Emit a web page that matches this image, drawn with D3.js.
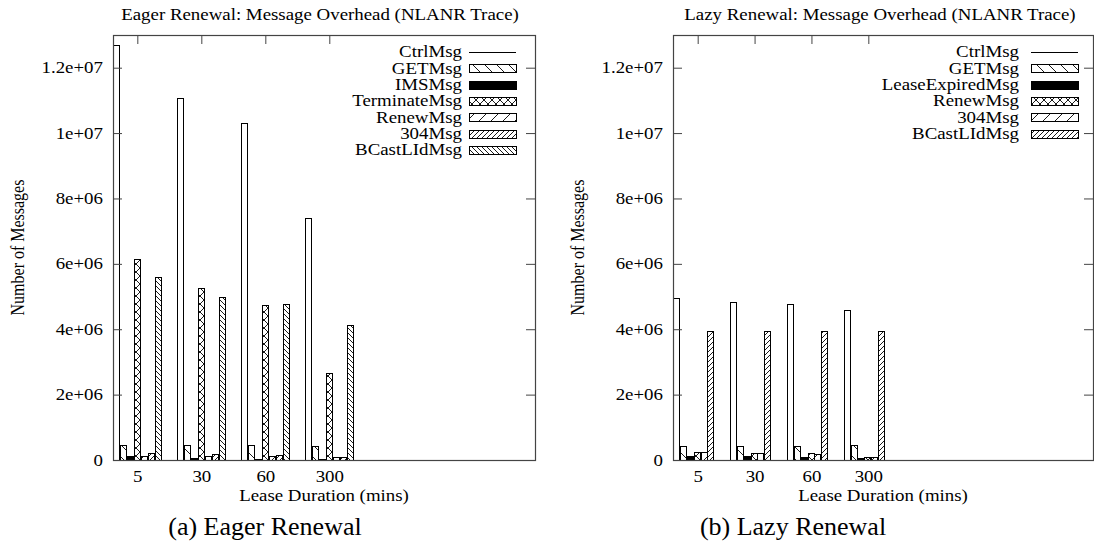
<!DOCTYPE html>
<html>
<head>
<meta charset="utf-8">
<script src="https://cdn.jsdelivr.net/npm/d3@7"></script>
<style>
  body { margin: 0; background: #fff; }
  svg { display: block; }
  text { font-family: "Liberation Serif", "Times New Roman", serif; fill: #000; }
</style>
</head>
<body>
<svg id="fig" width="1094" height="551"></svg>
<script>
// ---- data -------------------------------------------------------------
const leaseDurations = ["5", "30", "60", "300"];
const yTickValues = [0, 2e6, 4e6, 6e6, 8e6, 1e7, 1.2e7];
const yTickLabels = ["0", "2e+06", "4e+06", "6e+06", "8e+06", "1e+07", "1.2e+07"];

// Eager renewal
const eagerNames = ["CtrlMsg", "GETMsg", "IMSMsg", "TerminateMsg", "RenewMsg", "304Msg", "BCastLIdMsg"];
const eagerCtrlMsg      = [12.70e6, 11.08e6, 10.30e6, 7.41e6];
const eagerGETMsg       = [0.46e6, 0.46e6, 0.46e6, 0.44e6];
const eagerIMSMsg       = [0.12e6, 0.06e6, 0.04e6, 0.02e6];
const eagerTerminateMsg = [6.14e6, 5.25e6, 4.75e6, 2.65e6];
const eagerRenewMsg     = [0.12e6, 0.12e6, 0.12e6, 0.10e6];
const eager304Msg       = [0.22e6, 0.18e6, 0.15e6, 0.10e6];
const eagerBCastLIdMsg  = [5.61e6, 4.99e6, 4.76e6, 4.12e6];

// Lazy renewal
const lazyNames = ["CtrlMsg", "GETMsg", "LeaseExpiredMsg", "RenewMsg", "304Msg", "BCastLIdMsg"];
const lazyCtrlMsg         = [4.96e6, 4.83e6, 4.78e6, 4.59e6];
const lazyGETMsg          = [0.43e6, 0.43e6, 0.43e6, 0.46e6];
const lazyLeaseExpiredMsg = [0.13e6, 0.13e6, 0.10e6, 0.05e6];
const lazyRenewMsg        = [0.25e6, 0.20e6, 0.20e6, 0.10e6];
const lazy304Msg          = [0.25e6, 0.20e6, 0.18e6, 0.10e6];
const lazyBCastLIdMsg     = [3.94e6, 3.94e6, 3.94e6, 3.94e6];

// ---- fill styles ------------------------------------------------------
const eagerFills = ["empty", "backSparse", "solid", "cross", "fwdSparse", "fwdDense", "backDense"];
const lazyFills  = ["empty", "backSparse", "solid", "cross", "fwdSparse", "fwdDense"];

const FONT = 16;       // plot text size
const WIDEN = 1.18;    // plot text is set slightly wide
const svg = d3.select("#fig");
const defs = svg.append("defs");

function hatch(id, size, dirs) {
  const p = defs.append("pattern")
    .attr("id", id)
    .attr("patternUnits", "userSpaceOnUse")
    .attr("width", size).attr("height", size);
  p.append("rect").attr("width", size).attr("height", size).attr("fill", "#fff");
  const s = size;
  let d = "";
  if (dirs.includes("/")) d += `M0,${s} L${s},0 M${-s / 2},${s / 2} L${s / 2},${-s / 2} M${s / 2},${s * 1.5} L${s * 1.5},${s / 2} `;
  if (dirs.includes("\\")) d += `M0,0 L${s},${s} M${-s / 2},${s / 2} L${s / 2},${s * 1.5} M${s / 2},${-s / 2} L${s * 1.5},${s / 2} `;
  p.append("path").attr("d", d).attr("stroke", "#000").attr("stroke-width", 0.9).attr("fill", "none");
}
hatch("backSparse", 12, "\\");
hatch("fwdSparse", 12, "/");
hatch("cross", 8, "/\\");
hatch("fwdDense", 5, "/");
hatch("backDense", 5, "\\");

function fillOf(name) {
  if (name === "empty") return "#fff";
  if (name === "solid") return "#000";
  return `url(#${name})`;
}

// wide text placed at (x, y)
function wideText(parent, x, y, str, anchor) {
  return parent.append("text")
    .attr("transform", `translate(${x},${y}) scale(${WIDEN},1)`)
    .attr("text-anchor", anchor).attr("font-size", FONT)
    .text(str);
}

// ---- one panel --------------------------------------------------------
function drawPanel(cfg) {
  const g = svg.append("g");
  const x = d3.scaleLinear().domain(cfg.xDomain).range([cfg.left, cfg.right]);
  const y = d3.scaleLinear().domain([0, 1.3e7]).range([cfg.bottom, cfg.top]);
  const n = cfg.series.length;
  const bw = x(cfg.barWidth) - x(0);

  // bars
  cfg.series.forEach((vals, j) => {
    g.append("g").selectAll("rect")
      .data(vals)
      .join("rect")
      .attr("x", (d, i) => Math.round(x(i + cfg.shift) - n * bw / 2 + j * bw) + 0.5)
      .attr("width", Math.round(bw) - 1)
      .attr("y", d => Math.round(y(d)) + 0.5)
      .attr("height", d => Math.max(0, Math.round(y(0)) - Math.round(y(d))))
      .attr("fill", fillOf(cfg.fills[j]))
      .attr("stroke", "#000")
      .attr("stroke-width", 1);
  });

  // axes (ticks drawn inward, mirrored on the opposite side)
  const frameColor = "#444";
  const yAxisL = g.append("g").attr("transform", `translate(${cfg.left},0)`)
    .call(d3.axisLeft(y).tickValues(yTickValues)
      .tickFormat((d, i) => yTickLabels[i])
      .tickSizeInner(-9).tickSizeOuter(0).tickPadding(8.5));
  const yAxisR = g.append("g").attr("transform", `translate(${cfg.right},0)`)
    .call(d3.axisRight(y).tickValues(yTickValues).tickFormat("")
      .tickSizeInner(-9).tickSizeOuter(0));
  const xAxisT = g.append("g").attr("transform", `translate(0,${cfg.top})`)
    .call(d3.axisTop(x).tickValues(d3.range(leaseDurations.length)).tickFormat("")
      .tickSizeInner(-9).tickSizeOuter(0));
  const xAxisB = g.append("g").attr("transform", `translate(0,${cfg.bottom})`)
    .call(d3.axisBottom(x).tickValues(d3.range(leaseDurations.length))
      .tickFormat(i => leaseDurations[i])
      .tickSize(0).tickPadding(10.5));
  [yAxisL, yAxisR, xAxisT, xAxisB].forEach(a => {
    a.select(".domain").remove();
    a.selectAll("line").attr("stroke", frameColor);
    a.selectAll("text")
      .attr("font-family", "Liberation Serif").attr("font-size", FONT).attr("fill", "#000")
      .attr("transform", `scale(${WIDEN},1)`);
  });

  g.append("rect")
    .attr("x", cfg.left + 0.5).attr("y", cfg.top + 0.5)
    .attr("width", cfg.right - cfg.left).attr("height", cfg.bottom - cfg.top)
    .attr("fill", "none").attr("stroke", frameColor).attr("stroke-width", 1.2);

  // legend
  const rowH = 16.3;
  cfg.names.forEach((name, j) => {
    const cy = cfg.legendTop + j * rowH;
    wideText(g, cfg.legendTextX, cy + 5.3, name, "end");
    if (cfg.fills[j] === "empty") {
      g.append("line")
        .attr("x1", cfg.legendBoxX).attr("x2", cfg.legendBoxX + 47)
        .attr("y1", Math.round(cy) + 0.5).attr("y2", Math.round(cy) + 0.5)
        .attr("stroke", "#000");
    } else {
      g.append("rect")
        .attr("x", cfg.legendBoxX + 0.5).attr("y", Math.round(cy - 4) + 0.5)
        .attr("width", 47).attr("height", 8)
        .attr("fill", fillOf(cfg.fills[j])).attr("stroke", "#000");
    }
  });

  // titles and labels
  const midX = (cfg.left + cfg.right) / 2;
  wideText(g, cfg.titleX, 19.6, cfg.title, "middle");
  wideText(g, midX, 500.5, "Lease Duration (mins)", "middle");
  g.append("text")
    .attr("transform", `translate(${cfg.yLabelX},${(cfg.top + cfg.bottom) / 2}) rotate(-90) scale(1,${WIDEN})`)
    .attr("text-anchor", "middle").attr("dy", "0.33em").attr("font-size", FONT)
    .text("Number of Messages");
  g.append("text").attr("x", cfg.captionX).attr("y", 535).attr("text-anchor", "middle")
    .attr("font-size", 26).text(cfg.caption);
}

drawPanel({
  left: 113, right: 535, top: 35, bottom: 460,
  xDomain: [-0.38, 6.214], barWidth: 0.108, shift: 0,
  series: [eagerCtrlMsg, eagerGETMsg, eagerIMSMsg, eagerTerminateMsg, eagerRenewMsg, eager304Msg, eagerBCastLIdMsg],
  names: eagerNames, fills: eagerFills,
  legendTop: 52, legendTextX: 462, legendBoxX: 469,
  title: "Eager Renewal: Message Overhead (NLANR Trace)", titleX: 320,
  yLabelX: 18, captionX: 265, caption: "(a) Eager Renewal"
});

drawPanel({
  left: 673, right: 1093, top: 35, bottom: 460,
  xDomain: [-0.434, 6.95], barWidth: 0.12, shift: -0.069,
  series: [lazyCtrlMsg, lazyGETMsg, lazyLeaseExpiredMsg, lazyRenewMsg, lazy304Msg, lazyBCastLIdMsg],
  names: lazyNames, fills: lazyFills,
  legendTop: 52, legendTextX: 1019, legendBoxX: 1031,
  title: "Lazy Renewal: Message Overhead (NLANR Trace)", titleX: 880,
  yLabelX: 578, captionX: 793, caption: "(b) Lazy Renewal"
});
</script>
</body>
</html>
